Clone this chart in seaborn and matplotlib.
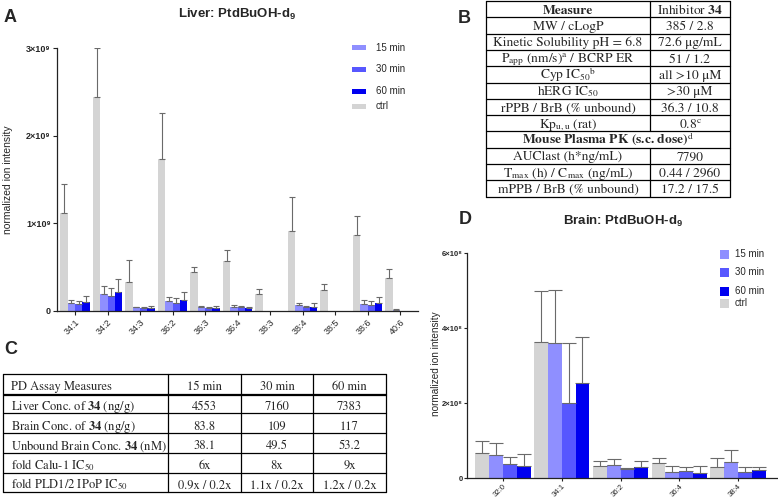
import numpy as np
import pandas as pd
import matplotlib
matplotlib.use("Agg")
import matplotlib.pyplot as plt
import seaborn as sns
from matplotlib.patches import Rectangle

# ---------------- data ----------------
time_levels = ["ctrl", "15 min", "30 min", "60 min"]
legend_order = ["15 min", "30 min", "60 min", "ctrl"]

liver_lipids = ["34:1", "34:2", "34:3", "36:2", "36:3", "36:4", "38:3", "38:4", "38:5", "38:6", "40:6"]
# values in units of 1e9
liver_ctrl = [1.12, 2.44, 0.335, 1.73, 0.45, 0.575, 0.19, 0.91, 0.24, 0.87, 0.375]
liver_15 = [0.095, 0.19, 0.04, 0.11, 0.04, 0.05, 0.0, 0.07, 0.0, 0.08, 0.006]
liver_30 = [0.075, 0.17, 0.03, 0.09, 0.03, 0.04, 0.0, 0.04, 0.0, 0.065, 0.0]
liver_60 = [0.10, 0.22, 0.038, 0.12, 0.035, 0.035, 0.0, 0.045, 0.0, 0.095, 0.0]
liver_ctrl_err = [0.33, 0.56, 0.245, 0.53, 0.056, 0.125, 0.06, 0.39, 0.07, 0.21, 0.105]
liver_15_err = [0.035, 0.09, 0.01, 0.055, 0.02, 0.02, 0.0, 0.025, 0.0, 0.045, 0.015]
liver_30_err = [0.035, 0.09, 0.015, 0.055, 0.01, 0.015, 0.0, 0.02, 0.0, 0.045, 0.0]
liver_60_err = [0.07, 0.15, 0.022, 0.10, 0.025, 0.005, 0.0, 0.045, 0.0, 0.07, 0.0]

brain_lipids = ["32:0", "34:1", "36:2", "36:4", "38:4"]
# values in units of 1e8
brain_ctrl = [0.68, 3.64, 0.33, 0.42, 0.31]
brain_15 = [0.61, 3.60, 0.35, 0.16, 0.43]
brain_30 = [0.39, 2.00, 0.26, 0.19, 0.17]
brain_60 = [0.33, 2.53, 0.29, 0.14, 0.21]
brain_ctrl_err = [0.32, 1.36, 0.12, 0.11, 0.23]
brain_15_err = [0.32, 1.42, 0.16, 0.18, 0.32]
brain_30_err = [0.17, 1.60, 0.02, 0.11, 0.12]
brain_60_err = [0.31, 1.23, 0.16, 0.20, 0.10]

liver_yticks = ["0", "1×10⁹", "2×10⁹", "3×10⁹"]
brain_yticks = ["0", "2×10⁸", "4×10⁸", "6×10⁸"]

tableB_col1 = ["Measure", "MW / cLogP", "Kinetic Solubility pH = 6.8",
               r"P$_{\mathrm{app}}$ (nm/s)$^{\mathrm{a}}$ / BCRP ER",
               r"Cyp IC$_{50}$$^{\mathrm{b}}$", r"hERG IC$_{50}$",
               "rPPB / BrB (% unbound)", r"Kp$_{\mathrm{u,u}}$ (rat)",
               r"Mouse Plasma PK (s.c. dose)$^{\mathrm{d}}$",
               "AUClast (h*ng/mL)",
               r"T$_{\mathrm{max}}$ (h) / C$_{\mathrm{max}}$ (ng/mL)",
               "mPPB / BrB (% unbound)"]
tableB_col2 = [r"Inhibitor $\mathbf{34}$", "385 / 2.8", "72.6 μg/mL", "51 / 1.2",
               "all >10 μM", ">30 μM", "36.3 / 10.8", r"0.8$^{\mathrm{c}}$",
               "", "7790", "0.44 / 2960", "17.2 / 17.5"]

tableC_header = ["PD Assay Measures", "15 min", "30 min", "60 min"]
tableC_rows = [
    [r"Liver Conc. of $\mathbf{34}$ (ng/g)", "4553", "7160", "7383"],
    [r"Brain Conc. of $\mathbf{34}$ (ng/g)", "83.8", "109", "117"],
    [r"Unbound Brain Conc. $\mathbf{34}$ (nM)", "38.1", "49.5", "53.2"],
    [r"fold Calu-1 IC$_{50}$", "6x", "8x", "9x"],
    [r"fold PLD1/2 IPoP IC$_{50}$", "0.9x / 0.2x", "1.1x / 0.2x", "1.2x / 0.2x"],
]

palette = {"ctrl": "#d4d4d4", "15 min": "#8f8fff", "30 min": "#5757ff", "60 min": "#0000f0"}

# ---------------- style ----------------
sns.set_style("ticks")
plt.rcParams["font.family"] = ["Liberation Sans", "DejaVu Sans"]
plt.rcParams["mathtext.fontset"] = "custom"
plt.rcParams["mathtext.rm"] = "Liberation Sans"
plt.rcParams["mathtext.bf"] = "Liberation Sans:bold"
plt.rcParams["mathtext.it"] = "Liberation Sans:italic"

W, H = 778, 499
fig = plt.figure(figsize=(W / 100, H / 100), dpi=100)


def ax_from_px(left, right, top, bottom):
    return fig.add_axes([left / W, 1 - bottom / H, (right - left) / W, (bottom - top) / H])


def long_df(lipids, series, scale):
    rows = []
    for t, vals in zip(time_levels, series):
        for lip, v in zip(lipids, vals):
            rows.append({"lipid": lip, "time": t, "value": v * scale})
    return pd.DataFrame(rows)


def add_errors(ax, errs_by_level, scale, capsize):
    for cont, errs in zip(ax.containers, errs_by_level):
        for bar, e in zip(cont, errs):
            if e <= 0:
                continue
            x = bar.get_x() + bar.get_width() / 2
            h = bar.get_height()
            ax.errorbar(x, h, yerr=[[0], [e * scale]], fmt="none", ecolor="#6a6a6a",
                        elinewidth=0.8, capsize=capsize, capthick=0.8, zorder=3)


def style_axis(ax, ticklen=3, pad=1.5):
    sns.despine(ax=ax)
    ax.patch.set_alpha(0)
    for s in ("left", "bottom"):
        ax.spines[s].set_color("#222222")
        ax.spines[s].set_linewidth(0.9)
    ax.tick_params(axis="both", direction="out", length=ticklen, width=0.8, color="#222222", pad=pad)


# ---------------- panel A ----------------
axA = ax_from_px(57, 418, 48, 311)
dfA = long_df(liver_lipids, [liver_ctrl, liver_15, liver_30, liver_60], 1e9)
sns.barplot(data=dfA, x="lipid", y="value", hue="time", hue_order=time_levels, order=liver_lipids,
            palette=palette, saturation=1, width=0.9, gap=0, errorbar=None, legend=False,
            linewidth=0, ax=axA)
add_errors(axA, [liver_ctrl_err, liver_15_err, liver_30_err, liver_60_err], 1e9, 2.5)
axA.set_xlim(-0.554, 10.55)
axA.set_ylim(0, 3e9)
axA.set_yticks([0, 1e9, 2e9, 3e9])
axA.set_yticklabels(liver_yticks, fontsize=6.5, fontweight="bold")
axA.set_xticks(range(len(liver_lipids)))
axA.set_xticklabels(liver_lipids, fontsize=6.5, rotation=45, ha="right", rotation_mode="anchor")
axA.set_xlabel("")
axA.set_ylabel("normalized ion intensity", fontsize=7.5)
axA.yaxis.set_label_coords(-44 / 361, 0.5)
style_axis(axA)

# ---------------- panel D ----------------
axD = ax_from_px(467, 778, 253.3, 478.3)
dfD = long_df(brain_lipids, [brain_ctrl, brain_15, brain_30, brain_60], 1e8)
sns.barplot(data=dfD, x="lipid", y="value", hue="time", hue_order=time_levels, order=brain_lipids,
            palette=palette, saturation=1, width=0.94, gap=0, errorbar=None, legend=False,
            linewidth=0, ax=axD)
add_errors(axD, [brain_ctrl_err, brain_15_err, brain_30_err, brain_60_err], 1e8, 5)
axD.set_xlim(-0.613, 4.68)
axD.set_ylim(0, 6e8)
axD.set_yticks([0, 2e8, 4e8, 6e8])
axD.set_yticklabels(brain_yticks, fontsize=5.5, fontweight="bold")
axD.set_xticks(range(len(brain_lipids)))
axD.set_xticklabels(brain_lipids, fontsize=5.6, rotation=45, ha="right", rotation_mode="anchor")
axD.set_xlabel("")
axD.set_ylabel("normalized ion intensity", fontsize=7.2)
axD.yaxis.set_label_coords(-26 / 311, 0.508)
style_axis(axD, ticklen=2, pad=1)

# ---------------- overlay: labels, legends, tables ----------------
tax = fig.add_axes([0, 0, 1, 1], zorder=5)
tax.set_xlim(0, W)
tax.set_ylim(H, 0)
tax.axis("off")
tax.patch.set_alpha(0)

for lab, (x, y) in zip(["A", "B", "C", "D"], [(10, 17), (464, 18), (11, 349), (465, 220)]):
    tax.text(x, y, lab, fontsize=13, fontweight="bold", ha="center", va="center")

tax.text(237, 14, r"Liver: PtdBuOH-d$_{\mathbf{9}}$", fontsize=9.5, fontweight="bold",
         ha="center", va="center")
tax.text(623, 221, r"Brain: PtdBuOH-d$_{\mathbf{9}}$", fontsize=9.5, fontweight="bold",
         ha="center", va="center")

# legend A
for lab, y in zip(legend_order, [47.7, 69.3, 91, 106]):
    tax.add_patch(Rectangle((352, y - 2.5), 14, 5, color=palette[lab], lw=0))
    tax.text(376, y, lab, fontsize=7, va="center", ha="left")
# legend D
for lab, y in zip(legend_order, [254, 272, 291, 303]):
    tax.add_patch(Rectangle((720, y - 4.5), 9, 9, color=palette[lab], lw=0))
    tax.text(735, y, lab, fontsize=7, va="center", ha="left")

serif = dict(family="STIXGeneral", math_fontfamily="stix")
lw = 0.9

# table B
bx0, bxm, bx1 = 486, 650, 730
btop, brh = 1.0, 16.3
nB = len(tableB_col1)
for i in range(nB + 1):
    tax.plot([bx0, bx1], [btop + i * brh] * 2, color="black", lw=lw)
tax.plot([bx0, bx0], [btop, btop + nB * brh], color="black", lw=lw)
tax.plot([bx1, bx1], [btop, btop + nB * brh], color="black", lw=lw)
for i in range(nB):
    y0 = btop + i * brh
    base = y0 + brh - 3.6
    if tableB_col2[i] == "":
        tax.text((bx0 + bx1) / 2, base, tableB_col1[i], fontsize=9.7, fontweight="bold",
                 ha="center", va="baseline", **serif)
        continue
    tax.plot([bxm, bxm], [y0, y0 + brh], color="black", lw=lw)
    wt = "bold" if i == 0 else "normal"
    tax.text((bx0 + bxm) / 2, base, tableB_col1[i], fontsize=9.7, fontweight=wt,
             ha="center", va="baseline", **serif)
    tax.text((bxm + bx1) / 2, base, tableB_col2[i], fontsize=9.7,
             ha="center", va="baseline", **serif)

# table C
cx = [3.5, 168, 241, 313, 386]
ctop, crh = 374, 19.7
allC = [tableC_header] + tableC_rows
nC = len(allC)
for i in range(nC + 1):
    y = ctop + i * crh
    tax.plot([cx[0], cx[-1]], [y, y], color="black", lw=lw)
    if i == 1:
        tax.plot([cx[0], cx[-1]], [y + 1.6, y + 1.6], color="black", lw=lw)
for x in cx:
    tax.plot([x, x], [ctop, ctop + nC * crh], color="black", lw=lw)
for i, row in enumerate(allC):
    base = ctop + (i + 1) * crh - 3.5
    tax.text(11, base, row[0], fontsize=9, ha="left", va="baseline", **serif)
    for j in range(1, 4):
        tax.text((cx[j] + cx[j + 1]) / 2, base, row[j], fontsize=9, ha="center",
                 va="baseline", **serif)

fig.savefig("out.png", dpi=100)
